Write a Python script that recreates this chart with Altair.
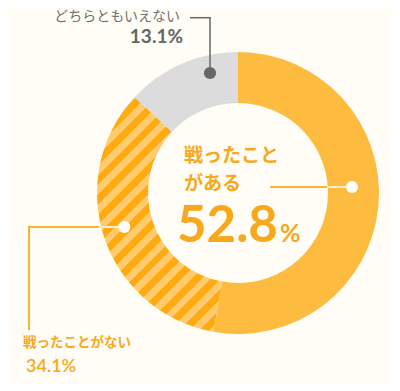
import math
import altair as alt
import pandas as pd

# ---- data ----
categories = ["戦ったことがある", "戦ったことがない", "どちらともいえない"]
values = [52.8, 34.1, 13.1]
orders = [0, 1, 2]
pct_labels = ["52.8", "34.1%", "13.1%"]

# ---- style ----
BG = "#FFFDF6"
ORANGE = "#FDBB3F"
STRIPE_DARK = "#FFAA10"
STRIPE_LIGHT = "#FFCB6C"
GRAY = "#DCDCDC"
TEXT_ORANGE = "#F7A81B"
TEXT_GRAY = "#666666"
LINE_ORANGE = "#F8B534"
LINE_LIGHT = "#FFF1D0"
CX, CY, R_OUT, R_IN = 230, 185, 141, 90
JP = "Noto Sans CJK JP"
NUM = "Lato"

df = pd.DataFrame({"category": categories, "value": values, "order": orders})

# stripe gradient geometry (45° "/" stripes in the striped slice's bounding box)
total = sum(values)
a0 = 2 * math.pi * values[0] / total
a1 = 2 * math.pi * (values[0] + values[1]) / total
pts = []
for a in [a0, a1]:
    for r in [R_OUT, R_IN]:
        pts.append((r * math.sin(a), -r * math.cos(a)))
steps = 200
for i in range(steps + 1):
    a = a0 + (a1 - a0) * i / steps
    pts.append((R_OUT * math.sin(a), -R_OUT * math.cos(a)))
xs = [p[0] for p in pts]
ys = [p[1] for p in pts]
w = max(xs) - min(xs)
h = max(ys) - min(ys)
span = max((x - min(xs)) + (y - min(ys)) for x, y in pts) + 4
k = span / (w * w + h * h)
du, dv = k * w, k * h
n_periods = int(round(span / 20.0))
stops = []
for i in range(n_periods):
    s0 = i / n_periods
    s1 = (i + 0.5) / n_periods
    s2 = (i + 1) / n_periods
    stops += [
        {"offset": s0, "color": STRIPE_DARK},
        {"offset": s1, "color": STRIPE_DARK},
        {"offset": s1, "color": STRIPE_LIGHT},
        {"offset": s2, "color": STRIPE_LIGHT},
    ]
gradient = {"gradient": "linear", "x1": 0, "y1": 0, "x2": du, "y2": dv, "stops": stops}

base = alt.Chart(df)

donut = base.mark_arc(radius=R_OUT, radius2=R_IN, stroke=None).encode(
    theta=alt.Theta("value:Q", stack=True),
    order=alt.Order("order:Q"),
    x=alt.value(CX),
    y=alt.value(CY),
    fill=alt.condition(
        alt.datum.category == categories[1],
        alt.value(gradient),
        alt.Fill(
            "category:N",
            scale=alt.Scale(domain=categories, range=[ORANGE, STRIPE_DARK, GRAY]),
            legend=None,
        ),
    ),
)

def rule(x1, y1, x2, y2, color, width):
    return alt.Chart(df.head(1)).mark_rule(color=color, strokeWidth=width).encode(
        x=alt.value(x1), y=alt.value(y1), x2=alt.value(x2), y2=alt.value(y2)
    )

def dot(x, y, color, size):
    return alt.Chart(df.head(1)).mark_point(
        filled=True, shape="circle", size=size, color=color, opacity=1
    ).encode(x=alt.value(x), y=alt.value(y))

def txt(x, y, s, size, color, font, weight="bold", align="left", baseline="middle"):
    return alt.Chart(df.head(1)).mark_text(
        text=s, fontSize=size, color=color, font=font, fontWeight=weight,
        align=align, baseline=baseline
    ).encode(x=alt.value(x), y=alt.value(y))

layers = [
    donut,
    # gray leader
    rule(182, 9.7, 202.7, 9.7, TEXT_GRAY, 1.5),
    rule(202, 9.7, 202, 65, TEXT_GRAY, 1.5),
    dot(202, 65, TEXT_GRAY, 150),
    # orange leader
    rule(262, 179, 319, 179, LINE_ORANGE, 2),
    rule(319, 179, 344, 179, LINE_LIGHT, 2),
    dot(344, 179, "white", 140),
    # striped leader
    rule(21, 219, 91, 219, LINE_ORANGE, 2),
    rule(91, 219, 116, 219, LINE_LIGHT, 2),
    rule(21, 218, 21, 322, LINE_ORANGE, 2),
    dot(116.5, 219, "white", 140),
    # texts
    txt(172, 9, categories[2], 14, "#707070", JP, weight="normal", align="right"),
    txt(175, 28.5, pct_labels[2], 19, TEXT_GRAY, NUM, align="right"),
    txt(176, 147.5, "戦ったこと", 19, TEXT_ORANGE, JP),
    txt(176, 175.5, "がある", 19, TEXT_ORANGE, JP),
    txt(169, 234, pct_labels[0], 51, TEXT_ORANGE, NUM, baseline="alphabetic"),
    txt(272, 234, "%", 25, TEXT_ORANGE, NUM, baseline="alphabetic"),
    txt(15, 335, categories[1], 13.5, TEXT_ORANGE, JP),
    txt(18, 359, pct_labels[1], 18, TEXT_ORANGE, NUM, weight=600),
]

chart = alt.layer(*layers).properties(
    width=384,
    height=375,
    autosize=alt.AutoSizeParams(type="fit", contains="padding"),
    padding=0,
    background=BG,
).configure_view(stroke=None)

chart.save("out.html", embed_options={"renderer": "svg", "actions": False})
